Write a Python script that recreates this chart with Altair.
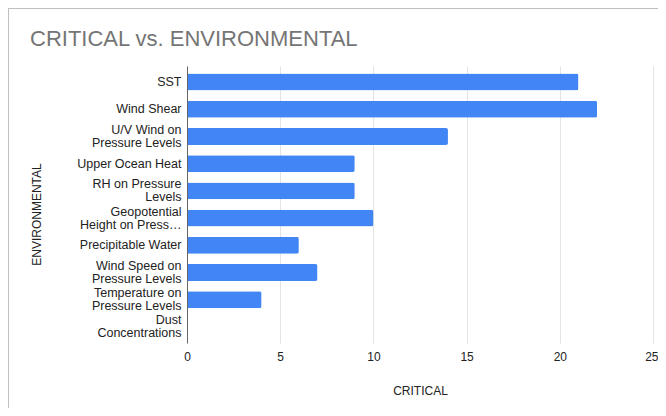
import altair as alt
import pandas as pd

categories = [
    "SST",
    "Wind Shear",
    "U/V Wind on|Pressure Levels",
    "Upper Ocean Heat",
    "RH on Pressure|Levels",
    "Geopotential|Height on Press…",
    "Precipitable Water",
    "Wind Speed on|Pressure Levels",
    "Temperature on|Pressure Levels",
    "Dust|Concentrations",
]
critical = [21, 22, 14, 9, 9, 10, 6, 7, 4, 0]
x_ticks = [0, 5, 10, 15, 20, 25]

df = pd.DataFrame({"ENVIRONMENTAL": categories, "CRITICAL": critical})

FONT = "Liberation Sans"
TXT = "#222222"

bars = alt.Chart(df).mark_bar(color="#4285f4", cornerRadiusEnd=2).encode(
    x=alt.X(
        "CRITICAL:Q",
        scale=alt.Scale(domain=[0, 25], nice=False),
        axis=alt.Axis(
            values=x_ticks,
            grid=True,
            gridColor="#e3e3e3",
            domain=False,
            ticks=False,
            labelFlush=False,
            labelAlign={
                "condition": {"test": "datum.value == 25", "value": "right"},
                "value": "center",
            },
            labelOffset={
                "condition": {"test": "datum.value == 25", "value": 5},
                "value": 0,
            },
            labelPadding=8,
            labelFont=FONT,
            labelFontSize=12,
            labelColor=TXT,
            title="CRITICAL",
            titleFont=FONT,
            titleFontSize=12,
            titleFontWeight="normal",
            titleColor=TXT,
            titleY=47,
            titleBaseline="middle",
        ),
    ),
    y=alt.Y(
        "ENVIRONMENTAL:N",
        sort=categories,
        scale=alt.Scale(paddingInner=0.38, paddingOuter=0.28),
        axis=alt.Axis(
            domain=True,
            domainColor="#666666",
            ticks=False,
            grid=False,
            labelPadding=6,
            labelExpr="split(datum.label, '|')",
            labelLineHeight=13,
            labelOffset={
                "condition": {"test": "indexof(datum.value, '|') >= 0", "value": -6.5},
                "value": 0,
            },
            labelFont=FONT,
            labelFontSize=12.5,
            labelColor=TXT,
            labelLimit=150,
            title="ENVIRONMENTAL",
            titleFont=FONT,
            titleFontSize=12,
            titleFontWeight="normal",
            titleColor=TXT,
            titleX=-151,
            titleY=148,
            titleAngle=-90,
            titleAlign="center",
            titleBaseline="middle",
            zindex=1,
        ),
    ),
)

frame = pd.DataFrame({"k": [0]})
border_top = alt.Chart(frame).mark_rule(color="#c0c0c0", strokeWidth=2).encode(
    x=alt.value(-179), x2=alt.value(471), y=alt.value(-58)
)
border_left = alt.Chart(frame).mark_rule(color="#c0c0c0", strokeWidth=2).encode(
    x=alt.value(-179), y=alt.value(-58), y2=alt.value(342)
)

chart = (
    alt.layer(bars, border_top, border_left)
    .properties(
        width=466,
        height=277,
        autosize=alt.AutoSizeParams(type="none"),
        padding={"left": 179, "top": 58, "right": 5, "bottom": 65},
        background="white",
        title=alt.TitleParams(
            "CRITICAL vs. ENVIRONMENTAL",
            anchor="start",
            frame="group",
            font=FONT,
            fontSize=22,
            fontWeight="normal",
            color="#757575",
            baseline="alphabetic",
            offset=0,
            dy=61,
            dx=-157,
        ),
    )
    .configure_view(stroke=None)
)

chart.save("out.html", embed_options={"renderer": "svg", "actions": False})
